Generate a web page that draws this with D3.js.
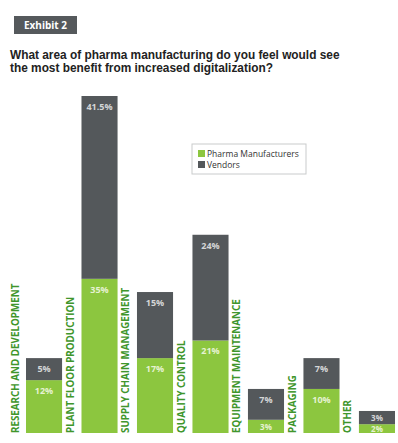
<!DOCTYPE html>
<html lang="en">
<head>
	<meta charset="UTF-8">
	<title>Exhibit 2</title>
	<style>
		body { margin: 0; background: #fff; }
		svg { display: block; font-family: "Open Sans", "Noto Sans", sans-serif; }
	</style>
</head>
<body>
	<script src="https://cdn.jsdelivr.net/npm/d3@7"></script>
	<script>
		var categories = ["RESEARCH AND DEVELOPMENT", "PLANT FLOOR PRODUCTION", "SUPPLY CHAIN MANAGEMENT",
			"QUALITY CONTROL", "EQUIPMENT MAINTENANCE", "PACKAGING", "OTHER"];
		var manufacturers = [12, 35, 17, 21, 3, 10, 2];
		var vendors = [5, 41.5, 15, 24, 7, 7, 3];
		var seriesNames = ["Pharma Manufacturers", "Vendors"];
		var titleLines = ["What area of pharma manufacturing do you feel would see",
			"the most benefit from increased digitalization?"];

		var width = 398,
			height = 443,
			baseline = 433,
			green = "#8cc63f",
			dark = "#54585b",
			labelGreen = "#3f962c";

		var svg = d3.select("body").append("svg")
			.attr("width", width)
			.attr("height", height);

		// exhibit badge
		svg.append("rect")
			.attr("x", 14).attr("y", 16)
			.attr("width", 63).attr("height", 18)
			.attr("fill", "#55595c");
		svg.append("text")
			.attr("x", 45.5).attr("y", 29)
			.attr("text-anchor", "middle")
			.attr("fill", "#fff")
			.attr("font-size", 10)
			.attr("font-weight", "bold")
			.text("Exhibit 2");

		// title
		var title = svg.selectAll("text.title")
			.data(titleLines)
			.enter()
			.append("text")
			.attr("class", "title")
			.attr("x", 10)
			.attr("y", function(d, i){ return 59 + i * 13; })
			.attr("fill", "#222")
			.attr("font-family", "'Liberation Sans', Arial, sans-serif")
			.attr("font-size", 12)
			.attr("font-weight", "bold")
			.text(function(d){ return d; });
		// first line spans about 330px in the reference
		var w = title.node().getComputedTextLength();
		title.attr("font-size", Math.min(12.5, 12 * 330 / w));

		var x = d3.scaleBand()
			.domain(categories)
			.range([26, 395])
			.paddingInner(0.35)
			.paddingOuter(0);

		var y = d3.scaleLinear()
			.domain([0, 76.5])
			.range([baseline, 96]);

		var rows = categories.map(function(c, i){
			return {cat: c, m: manufacturers[i], v: vendors[i]};
		});

		var g = svg.selectAll("g.bar")
			.data(rows)
			.enter()
			.append("g")
			.attr("class", "bar");

		// manufacturers segment (bottom)
		g.append("rect")
			.attr("x", function(d){ return x(d.cat); })
			.attr("y", function(d){ return y(d.m); })
			.attr("width", x.bandwidth())
			.attr("height", function(d){ return y(0) - y(d.m); })
			.attr("fill", green);

		// vendors segment (top)
		g.append("rect")
			.attr("x", function(d){ return x(d.cat); })
			.attr("y", function(d){ return y(d.m + d.v); })
			.attr("width", x.bandwidth())
			.attr("height", function(d){ return y(d.m) - y(d.m + d.v); })
			.attr("fill", dark);

		function labelY(top, bottom) {
			var h = bottom - top;
			return top + Math.min(14, h / 2 + 3.2);
		}
		function labelSize(top, bottom) {
			return (bottom - top) < 16 ? 8 : 9;
		}

		g.append("text")
			.attr("x", function(d){ return x(d.cat) + x.bandwidth() / 2; })
			.attr("y", function(d){ return labelY(y(d.m + d.v), y(d.m)); })
			.attr("text-anchor", "middle")
			.attr("fill", "#d4d6d7")
			.attr("font-size", function(d){ return labelSize(y(d.m + d.v), y(d.m)); })
			.attr("font-weight", "bold")
			.text(function(d){ return d.v + "%"; });

		g.append("text")
			.attr("x", function(d){ return x(d.cat) + x.bandwidth() / 2; })
			.attr("y", function(d){ return labelY(y(d.m), y(0)); })
			.attr("text-anchor", "middle")
			.attr("fill", "#e6f2d2")
			.attr("font-size", function(d){ return labelSize(y(d.m), y(0)); })
			.attr("font-weight", "bold")
			.text(function(d){ return d.m + "%"; });

		// category labels, vertical, left of each bar
		g.append("text")
			.attr("transform", function(d){
				return "translate(" + (x(d.cat) - 7.5) + "," + baseline + ") rotate(-90)";
			})
			.attr("fill", labelGreen)
			.attr("font-size", 9.8)
			.attr("font-weight", "bold")
			.text(function(d){ return d.cat; });

		// legend
		var legend = svg.append("g").attr("transform", "translate(192,144)");
		legend.append("rect")
			.attr("width", 114).attr("height", 30)
			.attr("fill", "#fff")
			.attr("stroke", "#c9cbcc");
		var items = legend.selectAll("g.item")
			.data(seriesNames)
			.enter()
			.append("g")
			.attr("class", "item")
			.attr("transform", function(d, i){ return "translate(6," + (6 + i * 11) + ")"; });
		items.append("rect")
			.attr("width", 7).attr("height", 7)
			.attr("fill", function(d, i){ return i == 0 ? green : dark; });
		items.append("text")
			.attr("x", 9).attr("y", 7)
			.attr("fill", "#333")
			.attr("font-size", 8.5)
			.text(function(d){ return d; });
	</script>
</body>
</html>
